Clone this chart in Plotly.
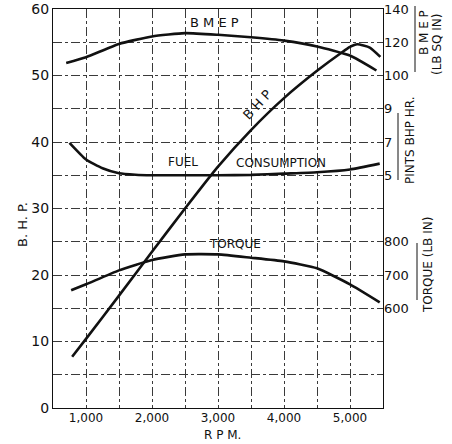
import plotly.graph_objects as go

# ---- data ----
bmep_rpm = [700, 1000, 1500, 2000, 2500, 3000, 3500, 4000, 4500, 5000, 5400]
bmep_val = [107.5, 111, 119, 123.5, 125.5, 124.5, 123, 121, 117.5, 112, 103]

bhp_rpm = [790, 1000, 1500, 2000, 2500, 3000, 3500, 4000, 4500, 4880, 5000, 5110, 5300, 5460]
bhp_val = [7.7, 10.4, 16.9, 23.5, 30.0, 36.3, 41.8, 46.6, 50.7, 53.5, 54.3, 54.7, 54.2, 52.8]

fuel_rpm = [750, 1000, 1250, 1500, 1750, 2000, 2500, 3000, 3500, 4000, 4500, 5000, 5450]
fuel_val = [6.95, 5.95, 5.42, 5.12, 5.03, 5.0, 5.0, 5.0, 5.02, 5.1, 5.18, 5.35, 5.7]

torque_rpm = [775, 1000, 1500, 2000, 2500, 3000, 3500, 4000, 4500, 5000, 5450]
torque_val = [654, 672, 714, 745, 762, 762, 752, 741, 720, 672, 618]

x_ticks = [1000, 2000, 3000, 4000, 5000]
x_ticktext = ["1,000", "2,000", "3,000", "4,000", "5,000"]
bhp_ticks = [0, 10, 20, 30, 40, 50, 60]
bmep_ticks = [100, 120, 140]
fuel_ticks = [5, 7, 9]
torque_ticks = [600, 700, 800]

FONT = "DejaVu Sans"
INK = "#111111"
GRID = "#3a3a3a"

fig = go.Figure()
line = dict(color=INK, width=2.6, shape="spline", smoothing=0.5)
fig.add_trace(go.Scatter(x=bmep_rpm, y=bmep_val, yaxis="y2", mode="lines", line=line, hoverinfo="skip"))
fig.add_trace(go.Scatter(x=bhp_rpm, y=bhp_val, yaxis="y", mode="lines", line=line, hoverinfo="skip"))
fig.add_trace(go.Scatter(x=fuel_rpm, y=fuel_val, yaxis="y3", mode="lines", line=line, hoverinfo="skip"))
fig.add_trace(go.Scatter(x=torque_rpm, y=torque_val, yaxis="y4", mode="lines", line=line, hoverinfo="skip"))

right_common = dict(overlaying="y", side="right", anchor="x", showgrid=False, zeroline=False,
                    showline=False, ticks="", automargin=False,
                    tickfont=dict(family=FONT, size=13, color=INK), fixedrange=True)

fig.update_layout(
    width=452, height=444,
    margin=dict(l=53, r=69, t=9, b=36, autoexpand=False),
    paper_bgcolor="white", plot_bgcolor="white",
    showlegend=False,
    font=dict(family=FONT, color=INK),
    xaxis=dict(range=[500, 5500], tickvals=x_ticks, ticktext=x_ticktext, automargin=False,
               showgrid=True, gridcolor=GRID, griddash="dashdot", gridwidth=1,
               minor=dict(dtick=500, tick0=0, showgrid=True, gridcolor=GRID, griddash="dashdot", gridwidth=1),
               showline=True, linecolor=INK, linewidth=1.2, mirror=True, zeroline=False,
               ticks="", ticklabelstandoff=-2, tickfont=dict(family=FONT, size=12, color=INK)),
    yaxis=dict(range=[0, 60], tickvals=bhp_ticks, automargin=False,
               showgrid=True, gridcolor=GRID, griddash="dashdot", gridwidth=1,
               minor=dict(dtick=5, tick0=0, showgrid=True, gridcolor=GRID, griddash="dashdot", gridwidth=1),
               showline=True, linecolor=INK, linewidth=1.2, mirror=True, zeroline=False,
               ticks="", tickfont=dict(family=FONT, size=14, color=INK)),
    yaxis2=dict(range=[-100, 140], tickvals=bmep_ticks, **right_common),
    yaxis3=dict(range=[-9, 15], tickvals=fuel_ticks, **right_common),
    yaxis4=dict(range=[300, 1500], tickvals=torque_ticks, **right_common),
)

ann = [
    dict(x=2950, y=58.0, text="B M E P", textangle=0, size=13),
    dict(x=3600, y=45.6, text="B H P", textangle=-47, size=13),
    dict(x=2470, y=37.0, text="FUEL", textangle=0, size=12),
    dict(x=3960, y=36.8, text="CONSUMPTION", textangle=0, size=12),
    dict(x=3250, y=24.7, text="TORQUE", textangle=0, size=12),
]
for a in ann:
    fig.add_annotation(x=a["x"], y=a["y"], xref="x", yref="y", text=a["text"], showarrow=False,
                       textangle=a["textangle"], font=dict(family=FONT, size=a["size"], color=INK))


def px_to_paper(px, py):
    return (px - 53) / 330.0, (408 - py) / 399.0


def add_paper_text(px, py, txt, size, angle=0):
    xp, yp = px_to_paper(px, py)
    fig.add_annotation(x=xp, y=yp, xref="paper", yref="paper", text=txt, showarrow=False,
                       textangle=angle, font=dict(family=FONT, size=size, color=INK),
                       xanchor="center", yanchor="middle")


add_paper_text(22, 225, "B. H. P.", 13, -90)
add_paper_text(222, 435, "R P M.", 12)
add_paper_text(424, 33, "B M E P", 12, -90)
add_paper_text(437, 44, "(LB SQ IN)", 12, -90)
add_paper_text(410, 140, "PINTS BHP HR.", 12, -90)
add_paper_text(428, 265, "TORQUE (LB IN)", 12, -90)

# bracket lines beside right-hand scales
for (px, y0, y1) in [(415, 6, 72), (398, 113, 180), (417, 243, 300)]:
    x0p, y0p = px_to_paper(px, y0)
    _, y1p = px_to_paper(px, y1)
    fig.add_shape(type="line", xref="paper", yref="paper", x0=x0p, x1=x0p, y0=y0p, y1=y1p,
                  line=dict(color=INK, width=1))

fig.write_html("out.html", config={"displayModeBar": False},
               post_script="document.body.style.margin='0px';document.body.style.overflow='hidden';")
